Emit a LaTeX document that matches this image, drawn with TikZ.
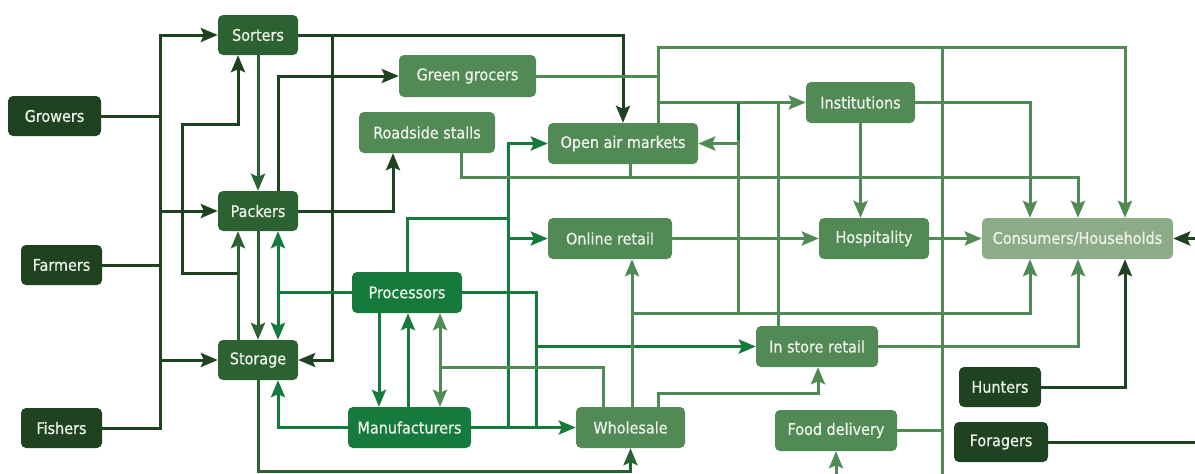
\documentclass[tikz,border=0pt]{standalone}
\usepackage{fontspec}
\newfontfamily\lblfont{DejaVu Sans Condensed}[FakeBold=0.7]
\usetikzlibrary{arrows.meta,backgrounds}
\definecolor{cA}{HTML}{1F4221}
\definecolor{cB}{HTML}{2C6132}
\definecolor{cC}{HTML}{167A3D}
\definecolor{cD}{HTML}{528A56}
\definecolor{cE}{HTML}{8CAB88}
\definecolor{txt}{HTML}{EEF1EA}
\begin{document}
\begin{tikzpicture}[x=1pt,y=-1pt,
  box/.style={rounded corners=5pt, inner sep=0pt, text=txt,
              font=\lblfont\fontsize{16}{18}\selectfont},
  wl/.style={line width=3pt},
  tip/.tip={Stealth[length=17pt,width=14pt,inset=3pt]},
  arr/.style={-tip},
  arrboth/.style={tip-tip}]
\useasboundingbox (0,0) rectangle (1195,474);

% ---- nodes ----
\node[box,fill=cA,minimum width=93pt,minimum height=40pt] (growers) at (54.5,116) {Growers};
\node[box,fill=cA,minimum width=81pt,minimum height=40pt] (farmers) at (61.5,265) {Farmers};
\node[box,fill=cA,minimum width=81pt,minimum height=40pt] (fishers) at (61.5,428) {Fishers};
\node[box,fill=cB,minimum width=80pt,minimum height=40pt] (sorters) at (258,35) {Sorters};
\node[box,fill=cB,minimum width=80pt,minimum height=40pt] (packers) at (258,211) {Packers};
\node[box,fill=cB,minimum width=80pt,minimum height=40pt] (storage) at (258,360) {Storage};
\node[box,fill=cD,minimum width=137pt,minimum height=42pt] (greengrocers) at (467.5,76) {Green grocers};
\node[box,fill=cD,minimum width=136pt,minimum height=41pt] (roadside) at (427,132.5) {Roadside stalls};
\node[box,fill=cD,minimum width=150pt,minimum height=41pt] (openair) at (623,143.5) {Open air markets};
\node[box,fill=cD,minimum width=124pt,minimum height=41pt] (onlineretail) at (610,238.5) {Online retail};
\node[box,fill=cC,minimum width=110pt,minimum height=41pt] (processors) at (407,292.5) {Processors};
\node[box,fill=cC,minimum width=123pt,minimum height=41pt] (manufacturers) at (409.5,427.5) {Manufacturers};
\node[box,fill=cD,minimum width=109pt,minimum height=41pt] (wholesale) at (630.5,427.5) {Wholesale};
\node[box,fill=cD,minimum width=109pt,minimum height=41pt] (institutions) at (860.5,102.5) {Institutions};
\node[box,fill=cD,minimum width=110pt,minimum height=41pt] (hospitality) at (874,238.5) {Hospitality};
\node[box,fill=cE,minimum width=191pt,minimum height=41pt] (consumers) at (1077.5,238.5) {Consumers/Households};
\node[box,fill=cD,minimum width=122pt,minimum height=41pt] (instore) at (817,346.5) {In store retail};
\node[box,fill=cA,minimum width=82pt,minimum height=40pt] (hunters) at (1000,387) {Hunters};
\node[box,fill=cD,minimum width=122pt,minimum height=41pt] (fooddelivery) at (836,430.5) {Food delivery};
\node[box,fill=cA,minimum width=94pt,minimum height=40pt] (foragers) at (1001,442) {Foragers};

% ---- routing channels ----
\foreach \x in {160,182,238,278,332,379,393,408,440,461,508,536,603,630,632,658,738,778,818,942,1030,1078,1125}
  \coordinate (v\x) at (\x,0);
\foreach \y in {47,124,177,218,273,313,367,393,471}
  \coordinate (h\y) at (0,\y);
\coordinate (rim) at (1200,0);
\coordinate (floor) at (0,480);

\begin{scope}[on background layer]
% primary producers into the first handlers
\draw[wl,cA] (v160 |- growers.east) -- (v160 |- fishers.east);
\draw[wl,cA,arr] (growers.east) -| (v160 |- sorters.west) -- (sorters.west);
\draw[wl,cA,arr] (farmers.east) -| (v160 |- packers.west) -- (packers.west);
\draw[wl,cA,arr] (fishers.east) -| (v160 |- storage.west) -- (storage.west);

% sorters / packers / storage
\draw[wl,cB,arr] (sorters.south) -- (packers.north);
\draw[wl,cB,arr] (packers.south) -- (storage.north);
\draw[wl,cB,arr] (storage.north -| v238) -- (packers.south -| v238);
\draw[wl,cA,arr] (v238 |- h273) -| (v182 |- h124) -| (sorters.south -| v238);
\draw[wl,cA,arr] (sorters.east) -| (v332 |- storage.east) -- (storage.east);
\draw[wl,cA,arr] (sorters.east) -| (openair.north);
\draw[wl,cA,arr] (packers.north -| v278) |- (greengrocers.west);
\draw[wl,cA,arr] (packers.east) -| (roadside.south -| v393);
\draw[wl,cB,arr] (storage.south) |- (wholesale.south |- h471) -- (wholesale.south);

% processors and manufacturers
\draw[wl,cC,arrboth] (packers.south -| v278) -- (storage.north -| v278);
\draw[wl,cC] (processors.west) -- (v278 |- processors.west);
\draw[wl,cC] (processors.north) |- (v508 |- h218);
\draw[wl,cC,arr] (v508 |- manufacturers.east) |- (openair.west);
\draw[wl,cC,arr] (v508 |- onlineretail.west) -- (onlineretail.west);
\draw[wl,cC,arr] (manufacturers.east) -- (wholesale.west);
\draw[wl,cC] (processors.east) -| (v536 |- manufacturers.east);
\draw[wl,cC,arr] (v536 |- instore.west) -- (instore.west);
\draw[wl,cC,arr] (processors.south -| v379) -- (manufacturers.north -| v379);
\draw[wl,cC,arr] (manufacturers.north -| v408) -- (processors.south -| v408);
\draw[wl,cC,arr] (manufacturers.west) -| (storage.south -| v278);
\draw[wl,cD,arrboth] (processors.south -| v440) -- (manufacturers.north -| v440);
\draw[wl,cD] (wholesale.north -| v603) |- (v440 |- h367);

% wholesale onwards
\draw[wl,cD,arr] (wholesale.north -| v632) -- (onlineretail.south -| v632);
\draw[wl,cD,arr] (v632 |- h313) -| (consumers.south -| v1030);
\draw[wl,cD,arr] (wholesale.north -| v658) |- (v818 |- h393) -- (instore.south -| v818);

% retail outlets to consumers
\draw[wl,cD] (greengrocers.east) -- (v658 |- greengrocers.east);
\draw[wl,cD,arr] (openair.north -| v658) |- (v1125 |- h47) -- (consumers.north -| v1125);
\draw[wl,cD,arr] (v658 |- institutions.west) -- (institutions.west);
\draw[wl,cD] (instore.north -| v778) -- (v778 |- institutions.west);
\draw[wl,cD,arr] (v738 |- h313) |- (openair.east);
\draw[wl,cD] (v738 |- institutions.west) -- (v738 |- openair.east);
\draw[wl,cC] (v738 |- institutions.west) -- ++(0,37);
\draw[wl,cD,arr] (onlineretail.east) -- (hospitality.west);
\draw[wl,cD,arr] (hospitality.east) -- (consumers.west);
\draw[wl,cD,arr] (institutions.south) -- (institutions.south |- hospitality.north);
\draw[wl,cD,arr] (institutions.east) -| (consumers.north -| v1030);
\draw[wl,cD,arr] (roadside.south -| v461) |- (v1078 |- h177) -- (consumers.north -| v1078);
\draw[wl,cD] (openair.south -| v630) -- (v630 |- h177);
\draw[wl,cD,arr] (instore.east) -| (consumers.south -| v1078);
\draw[wl,cD] (v942 |- h47) -- (v942 |- floor);
\draw[wl,cD] (fooddelivery.east) -- (v942 |- fooddelivery.east);
\draw[wl,cD,arr] (fooddelivery.south |- floor) -- (fooddelivery.south);

% hunters and foragers
\draw[wl,cA,arr] (hunters.east) -| (consumers.south -| v1125);
\draw[wl,cA] (foragers.east) -- (foragers.east -| rim);
\draw[wl,cA,arr] (consumers.east -| rim) -- (consumers.east);
\end{scope}
\end{tikzpicture}
\end{document}
